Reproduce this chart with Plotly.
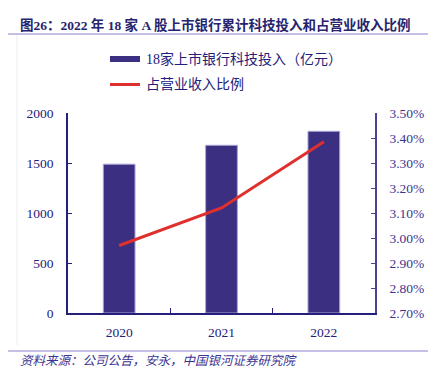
import plotly.graph_objects as go

years = ["2020", "2021", "2022"]
invest = [1488, 1677, 1817]
ratio = [2.97, 3.12, 3.385]

OFF = 8  # default page body margin
W, H = 436 - 2 * OFF, 382 - 2 * OFF
NAVY = "#22207a"
BAR = "#3b2f82"
RED = "#e0302e"
SERIF = "Liberation Serif, Times New Roman, Noto Sans CJK SC, serif"

def px(x):
    return (x - OFF) / W

def py(y):
    return 1 - (y - OFF) / H

fig = go.Figure()
fig.add_trace(go.Bar(
    x=years, y=invest, width=0.31,
    marker=dict(color=BAR, line=dict(color="#a8a4d4", width=1)),
    name="18家上市银行科技投入（亿元）", yaxis="y",
))
fig.add_trace(go.Scatter(
    x=years, y=ratio, mode="lines",
    line=dict(color=RED, width=3),
    name="占营业收入比例", yaxis="y2",
))

tickfont = dict(family=SERIF, size=13.5, color=NAVY)

fig.update_layout(
    width=W, height=H, autosize=False,
    margin=dict(l=0, r=0, t=0, b=0, pad=0, autoexpand=False),
    paper_bgcolor="white", plot_bgcolor="white",
    showlegend=False,
    xaxis=dict(
        domain=[px(68), px(375)], automargin=False,
        type="category",
        showline=True, linecolor=NAVY, linewidth=1.5,
        ticks="inside", tickson="boundaries", ticklen=5, tickcolor=NAVY,
        tickfont=tickfont, ticklabelstandoff=6,
        showgrid=False, zeroline=False,
    ),
    yaxis=dict(
        domain=[py(313), py(113)], automargin=False,
        range=[0, 2000], dtick=500,
        showline=True, linecolor=NAVY, linewidth=1.5,
        ticks="inside", ticklen=4, tickcolor=NAVY,
        tickfont=tickfont, ticklabelstandoff=10,
        showgrid=False, zeroline=False,
    ),
    yaxis2=dict(
        overlaying="y", side="right", anchor="x", automargin=False,
        range=[2.7, 3.5], dtick=0.1, tickformat=".2f", ticksuffix="%",
        showline=True, linecolor="#4b4396", linewidth=1.5,
        ticks="inside", ticklen=4, tickcolor="#4b4396",
        tickfont=dict(family=SERIF, size=13.5, color="#3a3490"),
        ticklabelstandoff=10,
        showgrid=False, zeroline=False,
    ),
)

shapes = [
    dict(type="line", xref="paper", yref="paper", x0=0, x1=1, y0=py(34), y1=py(34),
         line=dict(color="#8a80c8", width=1.2)),
    dict(type="line", xref="paper", yref="paper", x0=0, x1=1, y0=py(351), y1=py(351),
         line=dict(color="#8a80c8", width=1.2)),
    dict(type="line", xref="paper", yref="paper", x0=px(17), x1=px(17), y0=py(345), y1=py(35),
         line=dict(color="#ececf2", width=1)),
    dict(type="rect", xref="paper", yref="paper", x0=px(110), x1=px(140), y0=py(62), y1=py(56),
         fillcolor=BAR, line=dict(width=0)),
    dict(type="line", xref="paper", yref="paper", x0=px(110), x1=px(140), y0=py(84.5), y1=py(84.5),
         line=dict(color=RED, width=3)),
]
fig.update_layout(shapes=shapes)

annotations = [
    dict(text="<b>图26：2022 年 18 家 A 股上市银行累计科技投入和占营业收入比例</b>",
         x=px(18), y=py(25), xref="paper", yref="paper", xanchor="left", yanchor="middle",
         showarrow=False, font=dict(family=SERIF, size=13.5, color="#26246e")),
    dict(text="18家上市银行科技投入（亿元）",
         x=px(144), y=py(59), xref="paper", yref="paper", xanchor="left", yanchor="middle",
         showarrow=False, font=dict(family=SERIF, size=14, color=NAVY)),
    dict(text="占营业收入比例",
         x=px(144), y=py(84), xref="paper", yref="paper", xanchor="left", yanchor="middle",
         showarrow=False, font=dict(family=SERIF, size=14, color=NAVY)),
    dict(text="<i>资料来源：公司公告，安永，中国银河证券研究院</i>",
         x=px(18), y=py(361), xref="paper", yref="paper", xanchor="left", yanchor="middle",
         showarrow=False, font=dict(family=SERIF, size=12.5, color="#3a3490")),
]
fig.update_layout(annotations=annotations)

fig.write_html("out.html", config={"displayModeBar": False})
